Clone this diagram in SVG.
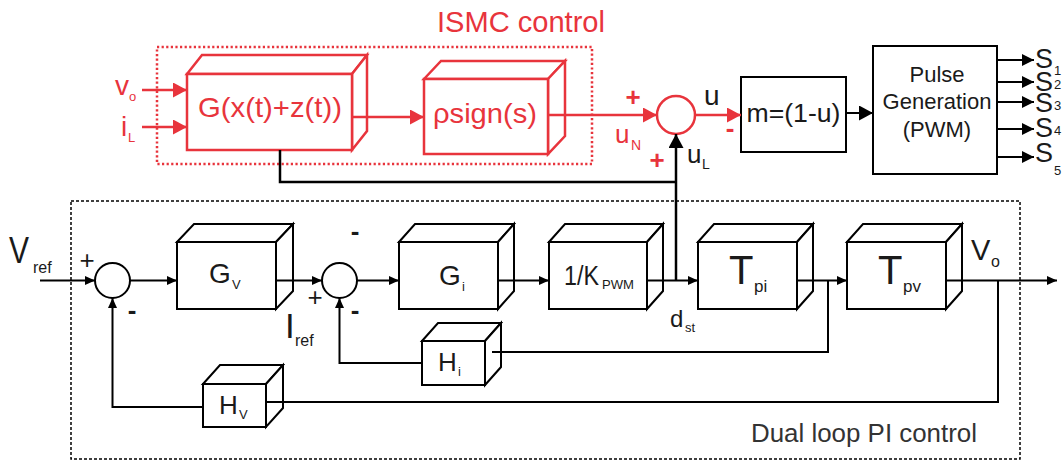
<svg xmlns="http://www.w3.org/2000/svg" width="1064" height="461" viewBox="0 0 1064 461">
<defs>
<style>
text{font-family:"Liberation Sans",Arial,sans-serif;fill:#1a1a1a}
.red{fill:#e8343c}
.box{fill:#fff;stroke:#000;stroke-width:2;stroke-linejoin:miter}
.rbox{fill:#fff;stroke:#e8343c;stroke-width:2.5}
.ln{fill:none;stroke:#000;stroke-width:2}
.lnt{fill:none;stroke:#000;stroke-width:2.5}
.rln{fill:none;stroke:#e8343c;stroke-width:2.5}
.sum{fill:#fff;stroke:#000;stroke-width:2}
.sign{font-size:26px}
</style>
<marker id="aB" markerUnits="userSpaceOnUse" markerWidth="10" markerHeight="10" refX="10" refY="5" orient="auto"><path d="M0,0.5 L10,5 L0,9.5 z" fill="#000"/></marker>
<marker id="aBL" markerUnits="userSpaceOnUse" markerWidth="14" markerHeight="15" refX="14" refY="7.5" orient="auto"><path d="M0,0 L14,7.5 L0,15 z" fill="#000"/></marker>
<marker id="aS" markerUnits="userSpaceOnUse" markerWidth="12" markerHeight="13" refX="12" refY="6.5" orient="auto"><path d="M0,0.5 L12,6.5 L0,12.5 z" fill="#000"/></marker>
<marker id="aR" markerUnits="userSpaceOnUse" markerWidth="14" markerHeight="15" refX="14" refY="7.5" orient="auto"><path d="M0,0 L14,7.5 L0,15 z" fill="#e8343c"/></marker>
</defs>
<rect width="1064" height="461" fill="#fff"/>

<!-- group frames -->
<g id="ismc-frame">
<rect x="157" y="47" width="435" height="117" fill="none" stroke="#e8343c" stroke-width="2.5" stroke-dasharray="2.2 2.4"/>
<text class="red" x="437" y="32" font-size="29" textLength="168" lengthAdjust="spacingAndGlyphs">ISMC control</text>
</g>
<g id="pi-frame">
<rect x="71" y="201" width="949" height="258" fill="none" stroke="#000" stroke-width="1.5" stroke-dasharray="3 2"/>
<text x="751" y="442" font-size="26" style="fill:#333" textLength="226" lengthAdjust="spacingAndGlyphs">Dual loop PI control</text>
</g>

<!-- nodes -->
<g id="node-G">
<path class="rbox" d="M187,74 l15,-19 h165 l-15,19 z"/>
<path class="rbox" d="M352,74 l15,-19 v76 l-15,19 z"/>
<rect class="rbox" x="187" y="74" width="165" height="76"/>
<text class="red" x="198" y="117" font-size="28" textLength="144" lengthAdjust="spacingAndGlyphs">G(x(t)+z(t))</text>
</g>
<g id="node-rho">
<path class="rbox" d="M424,79 l17,-18 h124 l-17,18 z"/>
<path class="rbox" d="M548,79 l17,-18 v75 l-17,18 z"/>
<rect class="rbox" x="424" y="79" width="124" height="75"/>
<text class="red" x="433" y="123" font-size="28" textLength="104" lengthAdjust="spacingAndGlyphs">ρsign(s)</text>
</g>
<g id="node-sumR">
<circle cx="676" cy="115" r="19" fill="#fff" stroke="#e8343c" stroke-width="2.5"/>
</g>
<g id="node-m">
<rect class="box" x="741" y="77" width="105" height="75"/>
<text x="793.5" y="122" font-size="26" text-anchor="middle" textLength="94" lengthAdjust="spacingAndGlyphs">m=(1-u)</text>
</g>
<g id="node-pwm">
<rect class="box" x="873" y="46" width="124" height="128"/>
<text x="937" y="82" font-size="22" text-anchor="middle">Pulse</text>
<text x="937" y="109" font-size="22" text-anchor="middle">Generation</text>
<text x="937" y="137" font-size="22" text-anchor="middle">(PWM)</text>
</g>
<g id="node-sum1"><circle class="sum" cx="112.5" cy="280.5" r="17.5"/></g>
<g id="node-sum2"><circle class="sum" cx="339.5" cy="280.5" r="17.5"/></g>
<g id="node-Gv">
<path class="box" d="M177,242 l17,-18 h99 l-17,18 z"/>
<path class="box" d="M276,242 l17,-18 v67 l-17,18 z"/>
<rect class="box" x="177" y="242" width="99" height="67"/>
<text x="209" y="283" font-size="28">G<tspan font-size="13" x="232" y="289">V</tspan></text>
</g>
<g id="node-Gi">
<path class="box" d="M399,242 l16,-18 h99 l-16,18 z"/>
<path class="box" d="M498,242 l16,-18 v67 l-16,18 z"/>
<rect class="box" x="399" y="242" width="99" height="67"/>
<text x="439" y="285" font-size="28">G<tspan font-size="13" x="462" y="291">i</tspan></text>
</g>
<g id="node-K">
<path class="box" d="M549,242 l16,-18 h98 l-16,18 z"/>
<path class="box" d="M647,242 l16,-18 v67 l-16,18 z"/>
<rect class="box" x="549" y="242" width="98" height="67"/>
<text x="564" y="285" font-size="28"><tspan textLength="35" lengthAdjust="spacingAndGlyphs">1/K</tspan><tspan font-size="13" x="602" y="289" textLength="32" lengthAdjust="spacingAndGlyphs">PWM</tspan></text>
</g>
<g id="node-Tpi">
<path class="box" d="M698,242 l16,-18 h99 l-16,18 z"/>
<path class="box" d="M797,242 l16,-18 v67 l-16,18 z"/>
<rect class="box" x="698" y="242" width="99" height="67"/>
<text x="729" y="284" font-size="40">T<tspan font-size="17" x="754" y="292">pi</tspan></text>
</g>
<g id="node-Tpv">
<path class="box" d="M847,242 l16,-18 h99 l-16,18 z"/>
<path class="box" d="M946,242 l16,-18 v67 l-16,18 z"/>
<rect class="box" x="847" y="242" width="99" height="67"/>
<text x="878" y="284" font-size="40">T<tspan font-size="17" x="903" y="292">pv</tspan></text>
</g>
<g id="node-Hi">
<path class="box" d="M422,341 l16,-18 h63 l-16,18 z"/>
<path class="box" d="M485,341 l16,-18 v44 l-16,18 z"/>
<rect class="box" x="422" y="341" width="63" height="44"/>
<text x="438" y="371" font-size="26">H<tspan font-size="13" x="458" y="376">i</tspan></text>
</g>
<g id="node-Hv">
<path class="box" d="M203,384 l17,-19 h63 l-17,19 z"/>
<path class="box" d="M266,384 l17,-19 v43 l-17,19 z"/>
<rect class="box" x="203" y="384" width="63" height="43"/>
<text x="219" y="414" font-size="26">H<tspan font-size="13" x="239" y="419">V</tspan></text>
</g>

<!-- connectors -->
<g id="connectors">
<path class="rln" d="M142,90 H187" marker-end="url(#aR)"/>
<path class="rln" d="M142,127 H187" marker-end="url(#aR)"/>
<path class="rln" d="M352,117 H424" marker-end="url(#aR)"/>
<path class="rln" d="M548,115 H657" marker-end="url(#aR)"/>
<path class="rln" d="M695,115 H741" marker-end="url(#aR)"/>
<path class="lnt" d="M280,150 V182 H676"/>
<path class="lnt" d="M676,280 V134" marker-end="url(#aBL)"/>
<path class="ln" d="M846,113 H873" marker-end="url(#aBL)"/>
<path class="ln" d="M997,60 H1034" marker-end="url(#aS)"/>
<path class="ln" d="M997,82 H1034" marker-end="url(#aS)"/>
<path class="ln" d="M997,102 H1034" marker-end="url(#aS)"/>
<path class="ln" d="M997,129 H1034" marker-end="url(#aS)"/>
<path class="ln" d="M997,157 H1034" marker-end="url(#aS)"/>
<path class="ln" d="M40,280.5 H95" marker-end="url(#aB)"/>
<path class="ln" d="M130,280.5 H177" marker-end="url(#aB)"/>
<path class="ln" d="M276,280.5 H322" marker-end="url(#aB)"/>
<path class="ln" d="M357,280.5 H399" marker-end="url(#aB)"/>
<path class="ln" d="M498,280.5 H549" marker-end="url(#aB)"/>
<path class="ln" d="M647,280.5 H698" marker-end="url(#aB)"/>
<path class="ln" d="M797,280.5 H847" marker-end="url(#aB)"/>
<path class="ln" d="M946,280.5 H1057" marker-end="url(#aB)"/>
<path class="ln" d="M203,407 H112.5 V298" marker-end="url(#aB)"/>
<path class="ln" d="M422,363 H339.5 V298" marker-end="url(#aB)"/>
<path class="ln" d="M492,352 H828 V280.5"/>
<path class="ln" d="M266,402 H998 V280.5"/>
</g>

<!-- labels -->
<g id="labels">
<text class="red" x="115" y="95" font-size="28">v<tspan font-size="13" x="129" y="101">o</tspan></text>
<text class="red" x="121" y="136" font-size="28">i<tspan font-size="13" x="128" y="142">L</tspan></text>
<text class="red" x="633" y="106" font-size="26" font-weight="bold" text-anchor="middle">+</text>
<text class="red" x="657" y="169" font-size="26" font-weight="bold" text-anchor="middle">+</text>
<text class="red" x="730" y="137" font-size="26" font-weight="bold" text-anchor="middle">-</text>
<text class="red" x="615" y="143" font-size="26">u<tspan font-size="14" x="631" y="150">N</tspan></text>
<text x="687" y="163" font-size="26">u<tspan font-size="14" x="702" y="169">L</tspan></text>
<text x="704" y="105" font-size="28">u</text>
<text x="1035" y="68" font-size="27">S<tspan font-size="13" x="1054" y="75">1</tspan></text>
<text x="1035" y="91" font-size="27">S<tspan font-size="13" x="1054" y="89">2</tspan></text>
<text x="1035" y="112" font-size="27">S<tspan font-size="13" x="1054" y="110">3</tspan></text>
<text x="1035" y="137" font-size="27">S<tspan font-size="13" x="1054" y="135">4</tspan></text>
<text x="1035" y="162" font-size="27">S<tspan font-size="13" x="1054" y="175">5</tspan></text>
<text x="9" y="263" font-size="37"><tspan textLength="20" lengthAdjust="spacingAndGlyphs">V</tspan><tspan font-size="16" x="33" y="273">ref</tspan></text>
<text x="87" y="269" class="sign" text-anchor="middle">+</text>
<text x="132" y="319" class="sign" font-weight="bold" text-anchor="middle">-</text>
<text x="315" y="306" class="sign" text-anchor="middle">+</text>
<text x="355" y="240" class="sign" font-weight="bold" text-anchor="middle">-</text>
<text x="355" y="319" class="sign" font-weight="bold" text-anchor="middle">-</text>
<text x="285" y="338" font-size="35">I<tspan font-size="16" x="295" y="346">ref</tspan></text>
<text x="670" y="327" font-size="24">d<tspan font-size="13" x="685" y="332">st</tspan></text>
<text x="971" y="260" font-size="29">V<tspan font-size="16" x="991" y="267">o</tspan></text>
</g>
</svg>
